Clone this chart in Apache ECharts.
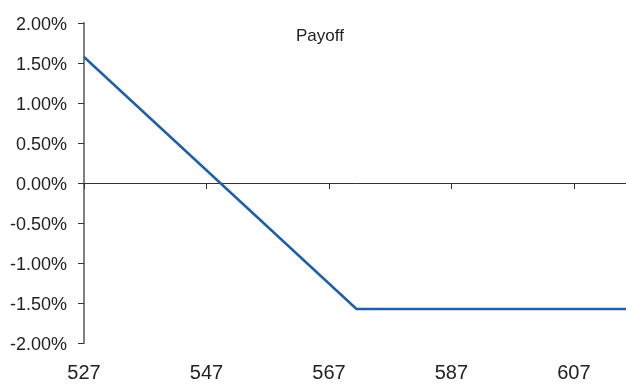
<!DOCTYPE html>
<html>
<head>
<meta charset="utf-8">
<script src="https://cdn.jsdelivr.net/npm/echarts@6/dist/echarts.min.js"></script>
<style>
  html, body { margin: 0; padding: 0; background: #fff; }
  #chart { width: 626px; height: 385px; }
</style>
</head>
<body>
<div id="chart"></div>
<script>
// Payoff profile (percent) at the break points of the underlying level
const levels = [527, 571.5, 616];
const payoffPct = [1.575, -1.575, -1.575];
const xTicks = [527, 547, 567, 587, 607];
const yTicks = [-2, -1.5, -1, -0.5, 0, 0.5, 1, 1.5, 2];

const FONT = '"Liberation Sans", Arial, sans-serif';

const chart = echarts.init(document.getElementById('chart'), null, { renderer: 'canvas' });

const xMin = xTicks[0];
const xMax = levels[levels.length - 1];

chart.setOption({
  animation: false,
  backgroundColor: '#ffffff',
  graphic: [{
    type: 'text',
    left: 296,
    top: 28,
    style: { text: 'Payoff', font: '17px ' + FONT, fill: '#222' }
  }],
  grid: { left: 84, right: -3, top: 23, bottom: 42, containLabel: false, outerBoundsMode: 'none' },
  xAxis: [
    {
      // zero line with tick marks
      type: 'value', min: xMin, max: xMax,
      axisLine: { onZero: true, lineStyle: { color: '#333', width: 1 } },
      axisTick: { show: true, inside: false, length: 6, customValues: xTicks, lineStyle: { color: '#333', width: 1 } },
      axisLabel: { show: false },
      splitLine: { show: false }
    },
    {
      // bottom labels
      type: 'value', min: xMin, max: xMax, position: 'bottom',
      axisLine: { show: false, onZero: false },
      axisTick: { show: false },
      axisLabel: {
        show: true, margin: 20, fontFamily: FONT, fontSize: 20, color: '#222',
        customValues: xTicks,
        formatter: v => String(v)
      },
      splitLine: { show: false }
    }
  ],
  yAxis: {
    type: 'value', min: yTicks[0], max: yTicks[yTicks.length - 1], interval: 0.5,
    axisLine: { show: true, onZero: false, lineStyle: { color: '#808080', width: 2 } },
    axisTick: { show: true, length: 6, lineStyle: { color: '#333', width: 1 } },
    axisLabel: {
      margin: 17,
      formatter: v => '{p|' + v.toFixed(2) + '%}',
      rich: {
        p: { fontFamily: FONT, fontSize: 18, color: '#222', padding: [5, 0, 0, 0] }
      }
    },
    splitLine: { show: false }
  },
  series: [{
    type: 'line',
    xAxisIndex: 0,
    data: levels.map((x, i) => [x, payoffPct[i]]),
    showSymbol: false,
    clip: false,
    lineStyle: { color: '#1f5fa9', width: 2.5 }
  }]
});
</script>
</body>
</html>
